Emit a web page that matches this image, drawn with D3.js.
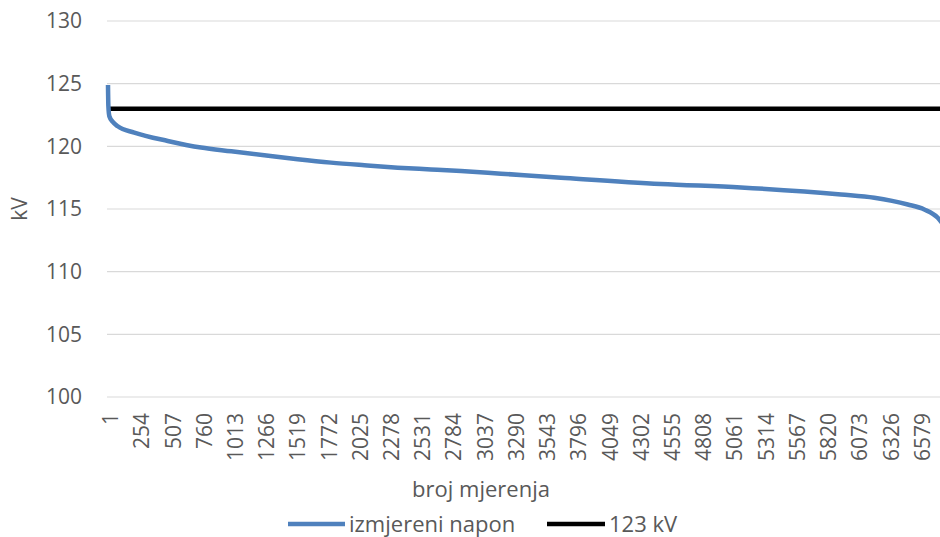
<!DOCTYPE html>
<html>
<head>
<meta charset="utf-8">
<script src="https://cdn.jsdelivr.net/npm/d3@7"></script>
<style>
  html, body { margin: 0; padding: 0; background: #fff; }
  svg { display: block; }
  text { font-family: "Open Sans", "Liberation Sans", sans-serif; fill: #595959; }
</style>
</head>
<body>
<svg id="chart" width="940" height="537"></svg>
<script>
// ---- data ----
const measIndex = [1, 4, 12, 40, 80, 214, 485, 755, 1000, 1268, 1538, 1808, 2078, 2349, 2618, 2862, 3186, 3672, 4482, 5130, 5941, 6211, 6482, 6616, 6725, 6751, 6800];
const measKV    = [124.9, 123.2, 122.4, 121.95, 121.6, 121.1, 120.43, 119.9, 119.6, 119.28, 118.97, 118.7, 118.49, 118.3, 118.16, 118.03, 117.82, 117.5, 117.0, 116.72, 116.16, 115.9, 115.36, 114.96, 114.3, 114.0, 113.2];
const refLevel = 123;
const xTickLabels = [1, 254, 507, 760, 1013, 1266, 1519, 1772, 2025, 2278, 2531, 2784, 3037, 3290, 3543, 3796, 4049, 4302, 4555, 4808, 5061, 5314, 5567, 5820, 6073, 6326, 6579];
const yTicks = [100, 105, 110, 115, 120, 125, 130];
const seriesNames = ["izmjereni napon", "123 kV"];
const seriesColors = ["#4f81bd", "#000000"];
const axisTitles = { x: "broj mjerenja", y: "kV" };

// ---- layout ----
const svg = d3.select("#chart");
const plotLeft = 107, plotRight = 940, plotTop = 21, plotBottom = 397;
const pxPerPoint = 0.1234;
const nPoints = 6800;

const x = d3.scaleLinear().domain([1, nPoints]).range([plotLeft + 1, plotLeft + 1 + (nPoints - 1) * pxPerPoint]);
const y = d3.scaleLinear().domain([100, 130]).range([plotBottom, plotTop]);
const fontFam = '"Open Sans", "Liberation Sans", sans-serif';

// grid lines
svg.append("g").selectAll("line").data(yTicks).join("line")
  .attr("x1", plotLeft).attr("x2", plotRight)
  .attr("y1", d => y(d)).attr("y2", d => y(d))
  .attr("stroke", "#d9d9d9").attr("stroke-width", 1.2);

// y axis labels
const yAxis = d3.axisLeft(y).tickValues(yTicks).tickFormat(d3.format("d")).tickSize(0).tickPadding(0);
const gy = svg.append("g").attr("transform", `translate(82,0)`).call(yAxis);
gy.select(".domain").remove();
gy.selectAll("text").attr("font-size", 21).attr("fill", "#595959").attr("font-family", fontFam);

// x axis labels (rotated)
const xAxis = d3.axisBottom(x).tickValues(xTickLabels).tickFormat(d3.format("d")).tickSize(0).tickPadding(0);
const gx = svg.append("g").attr("transform", `translate(2,${plotBottom})`).call(xAxis);
gx.select(".domain").remove();
gx.selectAll("text")
  .attr("font-size", 21).attr("fill", "#595959").attr("font-family", fontFam)
  .attr("text-anchor", "end")
  .attr("transform", "rotate(-90)")
  .attr("x", -16).attr("y", 0).attr("dy", "0.36em");

// axis titles
svg.append("text").attr("x", 481).attr("y", 497).attr("text-anchor", "middle")
  .attr("font-size", 22).text(axisTitles.x);
svg.append("text").attr("transform", "translate(27,209) rotate(-90)")
  .attr("text-anchor", "middle").attr("font-size", 21).text(axisTitles.y);

// reference line 123 kV
svg.append("line")
  .attr("x1", plotLeft).attr("x2", plotRight)
  .attr("y1", y(refLevel)).attr("y2", y(refLevel))
  .attr("stroke", seriesColors[1]).attr("stroke-width", 4.5);

// measured series
const pts = measIndex.map((d, i) => [d, measKV[i]]);
const line = d3.line().x(d => x(d[0])).y(d => y(d[1])).curve(d3.curveMonotoneX);
svg.append("path").datum(pts)
  .attr("d", line)
  .attr("fill", "none")
  .attr("stroke", seriesColors[0])
  .attr("stroke-width", 4.5)
  .attr("stroke-linejoin", "round");

// legend
const legend = [
  { name: seriesNames[0], color: seriesColors[0], x1: 288, x2: 345, tx: 349 },
  { name: seriesNames[1], color: seriesColors[1], x1: 547, x2: 605, tx: 609 }
];
const lg = svg.append("g");
legend.forEach(l => {
  lg.append("line").attr("x1", l.x1).attr("x2", l.x2).attr("y1", 524).attr("y2", 524)
    .attr("stroke", l.color).attr("stroke-width", 4.5);
  lg.append("text").attr("x", l.tx).attr("y", 524).attr("dy", "0.35em")
    .attr("font-size", 22).text(l.name);
});
</script>
</body>
</html>
